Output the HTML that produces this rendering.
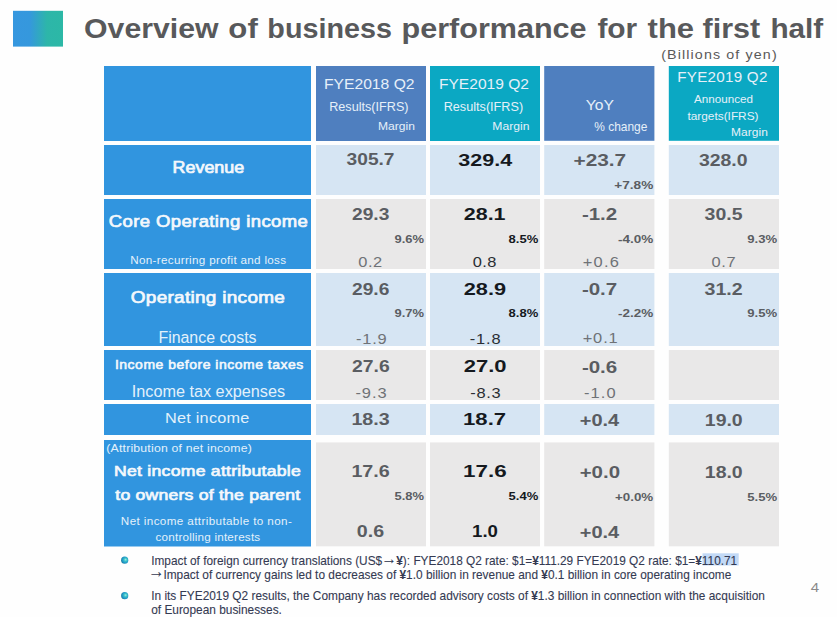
<!DOCTYPE html>
<html><head><meta charset="utf-8">
<style>
html,body{margin:0;padding:0;background:#fefefe;}
body{width:837px;height:617px;overflow:hidden;position:relative;font-family:"Liberation Sans",sans-serif;}
svg{position:absolute;left:0;top:0;}
</style></head>
<body>
<svg width="837" height="617" viewBox="0 0 837 617" font-family="Liberation Sans, sans-serif">
<defs>
<linearGradient id="sq" x1="0" y1="0" x2="1" y2="0">
<stop offset="0" stop-color="#3697df"/><stop offset="0.33" stop-color="#3598dd"/><stop offset="0.68" stop-color="#2db6a9"/><stop offset="1" stop-color="#2cb8a6"/>
</linearGradient>
<radialGradient id="bl" cx="0.62" cy="0.45" r="0.62" fx="0.62" fy="0.42">
<stop offset="0" stop-color="#9aeee0"/><stop offset="0.35" stop-color="#3cc0c8"/><stop offset="0.75" stop-color="#1b94c8"/><stop offset="1" stop-color="#1f7f9a"/>
</radialGradient>
</defs>
<rect x="13" y="10.8" width="50" height="35.8" fill="url(#sq)"/>
<!-- header -->
<rect x="104" y="66" width="207" height="75" fill="#3195df"/>
<rect x="316" y="66" width="110" height="75" fill="#4f7fbf"/>
<rect x="430" y="66" width="110" height="75" fill="#0ba8c3"/>
<rect x="544.2" y="66" width="110.2" height="74.8" fill="#4f7fbf"/>
<rect x="668.8" y="66" width="110.2" height="74.8" fill="#0ba8c3"/>
<!-- label column -->
<rect x="104" y="145" width="207" height="50" fill="#3195df"/>
<rect x="104" y="199" width="207" height="70" fill="#3195df"/>
<rect x="104" y="273" width="207" height="73" fill="#3195df"/>
<rect x="104" y="350" width="207" height="50" fill="#3195df"/>
<rect x="104" y="404" width="207" height="31" fill="#3195df"/>
<rect x="104" y="440" width="207" height="106.5" fill="#3195df"/>
<!-- data -->
<g fill="#d6e5f3">
<rect x="316" y="145" width="110" height="50"/><rect x="430" y="145" width="110" height="50"/><rect x="544.2" y="145" width="110.2" height="50"/><rect x="668.8" y="145" width="110.2" height="50"/>
<rect x="316" y="273" width="110" height="73"/><rect x="430" y="273" width="110" height="73"/><rect x="544.2" y="273" width="110.2" height="73"/><rect x="668.8" y="273" width="110.2" height="73"/>
<rect x="316" y="404" width="110" height="31"/><rect x="430" y="404" width="110" height="31"/><rect x="544.2" y="404" width="110.2" height="31"/><rect x="668.8" y="404" width="110.2" height="31"/>
</g>
<g fill="#e9e8e8">
<rect x="316" y="199" width="110" height="70"/><rect x="430" y="199" width="110" height="70"/><rect x="544.2" y="199" width="110.2" height="70"/><rect x="668.8" y="199" width="110.2" height="70"/>
<rect x="316" y="350" width="110" height="50"/><rect x="430" y="350" width="110" height="50"/><rect x="544.2" y="350" width="110.2" height="50"/><rect x="668.8" y="350" width="110.2" height="50"/>
<rect x="316" y="442.4" width="110" height="103.9"/><rect x="430" y="442.4" width="110" height="103.9"/><rect x="544.2" y="442.4" width="110.2" height="103.9"/><rect x="668.8" y="442.4" width="110.2" height="103.9"/>
</g>
<!-- footer highlight -->
<rect x="702.5" y="553.3" width="36.2" height="12.2" fill="#c2d9f6"/>
<circle cx="124.7" cy="560.2" r="3.6" fill="url(#bl)"/>
<circle cx="124.7" cy="595.7" r="3.6" fill="url(#bl)"/>
<g font-size="12.3" fill="#343a52" stroke="#343a52" stroke-width="0.1">
<text transform="translate(151.2 564.8) scale(0.9635 1)">Impact of foreign currency translations (US$<tspan font-size="16" dy="-1.3" dx="-0.5">→</tspan><tspan dy="1.3" dx="-0.8" font-weight="bold">¥</tspan>): FYE2018 Q2 rate: $1=<tspan font-weight="bold">¥</tspan>111.29 FYE2019 Q2 rate: $1=<tspan font-weight="bold">¥</tspan>110.71</text>
<text transform="translate(148.2 578.8) scale(0.9655 1)"><tspan font-size="17" dy="-1.4">→</tspan><tspan dy="1.4" dx="-1.2">Impact of currency gains led to decreases of </tspan><tspan font-weight="bold">¥</tspan>1.0 billion in revenue and <tspan font-weight="bold">¥</tspan>0.1 billion in core operating income</text>
<text transform="translate(151.2 600.3) scale(0.9665 1)">In its FYE2019 Q2 results, the Company has recorded advisory costs of <tspan font-weight="bold">¥</tspan>1.3 billion in connection with the acquisition</text>
<text transform="translate(151.2 614.1) scale(0.9665 1)">of European businesses.</text>
</g>
<text transform="translate(84.09 37.60) scale(1.1138 1)" font-size="27.14" font-weight="bold" fill="#58595b">Overview</text>
<text transform="translate(228.36 37.60) scale(1.1483 1)" font-size="27.14" font-weight="bold" fill="#58595b">of</text>
<text transform="translate(267.37 37.60) scale(1.0595 1)" font-size="27.14" font-weight="bold" fill="#58595b">business</text>
<text transform="translate(401.57 37.60) scale(1.1254 1)" font-size="27.14" font-weight="bold" fill="#58595b">performance</text>
<text transform="translate(597.40 37.60) scale(1.1020 1)" font-size="27.14" font-weight="bold" fill="#58595b">for</text>
<text transform="translate(647.59 37.60) scale(1.1426 1)" font-size="27.14" font-weight="bold" fill="#58595b">the</text>
<text transform="translate(702.59 37.60) scale(1.1252 1)" font-size="27.14" font-weight="bold" fill="#58595b">first</text>
<text transform="translate(770.42 37.60) scale(1.0958 1)" font-size="27.14" font-weight="bold" fill="#58595b">half</text>
<text transform="translate(661.14 58.80) scale(1.0600 1)" font-size="13.48" font-weight="normal" fill="#595959" letter-spacing="1.058">(Billions of yen)</text>
<text transform="translate(323.95 89.00) scale(1.0307 1)" font-size="15.22" font-weight="normal" fill="#e6f0f9">FYE2018 Q2</text>
<text transform="translate(329.19 110.70) scale(1.0157 1)" font-size="12.46" font-weight="normal" fill="#e6f0f9">Results(IFRS)</text>
<text transform="translate(378.03 129.70) scale(1.0425 1)" font-size="11.59" font-weight="normal" fill="#e6f0f9">Margin</text>
<text transform="translate(438.95 89.00) scale(1.0238 1)" font-size="15.22" font-weight="normal" fill="#e6f0f9">FYE2019 Q2</text>
<text transform="translate(443.69 110.70) scale(1.0171 1)" font-size="12.46" font-weight="normal" fill="#e6f0f9">Results(IFRS)</text>
<text transform="translate(492.33 129.70) scale(1.0484 1)" font-size="11.59" font-weight="normal" fill="#e6f0f9">Margin</text>
<text transform="translate(585.69 110.40) scale(1.0297 1)" font-size="15.22" font-weight="normal" fill="#e6f0f9">YoY</text>
<text transform="translate(594.24 131.00) scale(0.9942 1)" font-size="12.03" font-weight="normal" fill="#e6f0f9">% change</text>
<text transform="translate(677.28 82.40) scale(1.0600 1)" font-size="14.35" font-weight="normal" fill="#e6f0f9" letter-spacing="0.240">FYE2019 Q2</text>
<text transform="translate(694.00 102.50) scale(1.0307 1)" font-size="11.30" font-weight="normal" fill="#e6f0f9">Announced</text>
<text transform="translate(687.38 119.50) scale(1.0503 1)" font-size="11.30" font-weight="normal" fill="#e6f0f9">targets(IFRS)</text>
<text transform="translate(731.04 135.80) scale(1.0600 1)" font-size="11.30" font-weight="normal" fill="#e6f0f9" letter-spacing="0.058">Margin</text>
<text transform="translate(172.52 173.40) scale(1.1269 1)" font-size="15.91" font-weight="normal" fill="#f4f8fc" stroke="#f4f8fc" stroke-width="0.7">Revenue</text>
<text transform="translate(108.83 227.20) scale(1.1500 1)" font-size="16.06" font-weight="normal" fill="#f4f8fc" letter-spacing="0.351" stroke="#f4f8fc" stroke-width="0.7">Core Operating income</text>
<text transform="translate(130.27 263.60) scale(1.0600 1)" font-size="11.01" font-weight="normal" fill="#e3f1fb" letter-spacing="0.296">Non-recurring profit and loss</text>
<text transform="translate(130.79 303.00) scale(1.1500 1)" font-size="16.49" font-weight="normal" fill="#f4f8fc" letter-spacing="0.263" stroke="#f4f8fc" stroke-width="0.7">Operating income</text>
<text transform="translate(158.43 342.80) scale(1.0175 1)" font-size="15.65" font-weight="normal" fill="#e3f1fb">Finance costs</text>
<text transform="translate(114.92 368.60) scale(1.1500 1)" font-size="12.13" font-weight="normal" fill="#f4f8fc" letter-spacing="0.462" stroke="#f4f8fc" stroke-width="0.55">Income before income taxes</text>
<text transform="translate(131.74 397.00) scale(1.0375 1)" font-size="15.65" font-weight="normal" fill="#e3f1fb">Income tax expenses</text>
<text transform="translate(165.10 422.50) scale(1.0600 1)" font-size="15.36" font-weight="normal" fill="#e3f1fb" letter-spacing="0.203">Net income</text>
<text transform="translate(106.26 452.40) scale(1.0600 1)" font-size="11.59" font-weight="normal" fill="#e3f1fb" letter-spacing="0.180">(Attribution of net income)</text>
<text transform="translate(114.04 475.90) scale(1.1500 1)" font-size="15.33" font-weight="normal" fill="#f4f8fc" letter-spacing="0.226" stroke="#f4f8fc" stroke-width="0.7">Net income attributable</text>
<text transform="translate(115.27 500.10) scale(1.1500 1)" font-size="15.33" font-weight="normal" fill="#f4f8fc" letter-spacing="0.189" stroke="#f4f8fc" stroke-width="0.7">to owners of the parent</text>
<text transform="translate(120.87 524.70) scale(1.0600 1)" font-size="11.01" font-weight="normal" fill="#e3f1fb" letter-spacing="0.364">Net income attributable to non-</text>
<text transform="translate(155.53 541.00) scale(1.0600 1)" font-size="11.01" font-weight="normal" fill="#e3f1fb" letter-spacing="0.200">controlling interests</text>
<text transform="translate(346.62 165.20) scale(1.2065 1)" font-size="15.86" font-weight="bold" fill="#5a5d62">305.7</text>
<text transform="translate(458.37 165.70) scale(1.2552 1)" font-size="17.14" font-weight="bold" fill="#15191e">329.4</text>
<text transform="translate(573.47 166.00) scale(1.2924 1)" font-size="16.14" font-weight="bold" fill="#5a5d62">+23.7</text>
<text transform="translate(614.26 189.40) scale(1.1920 1)" font-size="11.43" font-weight="bold" fill="#5a5d62">+7.8%</text>
<text transform="translate(698.91 166.00) scale(1.2028 1)" font-size="16.14" font-weight="bold" fill="#5a5d62">328.0</text>
<text transform="translate(352.02 219.60) scale(1.2000 1)" font-size="16.00" font-weight="bold" fill="#5a5d62">29.3</text>
<text transform="translate(394.51 243.10) scale(1.1339 1)" font-size="11.43" font-weight="bold" fill="#5a5d62">9.6%</text>
<text transform="translate(358.31 267.20) scale(1.0600 1)" font-size="15.51" font-weight="normal" fill="#6f7276" letter-spacing="0.519">0.2</text>
<text transform="translate(463.76 219.60) scale(1.2742 1)" font-size="16.86" font-weight="bold" fill="#15191e">28.1</text>
<text transform="translate(508.61 243.10) scale(1.1378 1)" font-size="11.43" font-weight="bold" fill="#15191e">8.5%</text>
<text transform="translate(472.71 267.20) scale(1.0600 1)" font-size="15.51" font-weight="normal" fill="#2a2e33" letter-spacing="0.348">0.8</text>
<text transform="translate(581.88 219.50) scale(1.2824 1)" font-size="16.00" font-weight="bold" fill="#5a5d62">-1.2</text>
<text transform="translate(618.00 242.50) scale(1.1812 1)" font-size="11.43" font-weight="bold" fill="#5a5d62">-4.0%</text>
<text transform="translate(582.64 267.00) scale(1.0600 1)" font-size="15.51" font-weight="normal" fill="#6f7276" letter-spacing="1.227">+0.6</text>
<text transform="translate(704.61 219.50) scale(1.2170 1)" font-size="16.00" font-weight="bold" fill="#5a5d62">30.5</text>
<text transform="translate(747.31 242.50) scale(1.1496 1)" font-size="11.43" font-weight="bold" fill="#5a5d62">9.3%</text>
<text transform="translate(711.51 267.00) scale(1.0600 1)" font-size="15.51" font-weight="normal" fill="#6f7276" letter-spacing="0.661">0.7</text>
<text transform="translate(352.02 294.90) scale(1.2000 1)" font-size="16.00" font-weight="bold" fill="#5a5d62">29.6</text>
<text transform="translate(394.51 317.10) scale(1.1339 1)" font-size="11.43" font-weight="bold" fill="#5a5d62">9.7%</text>
<text transform="translate(355.94 343.90) scale(1.0600 1)" font-size="15.51" font-weight="normal" fill="#6f7276" letter-spacing="0.784">-1.9</text>
<text transform="translate(463.75 294.90) scale(1.2905 1)" font-size="16.86" font-weight="bold" fill="#15191e">28.9</text>
<text transform="translate(508.61 317.10) scale(1.1378 1)" font-size="11.43" font-weight="bold" fill="#15191e">8.8%</text>
<text transform="translate(469.84 343.90) scale(1.0600 1)" font-size="15.51" font-weight="normal" fill="#2a2e33" letter-spacing="0.763">-1.8</text>
<text transform="translate(581.88 294.90) scale(1.2824 1)" font-size="16.00" font-weight="bold" fill="#5a5d62">-0.7</text>
<text transform="translate(618.00 317.10) scale(1.1812 1)" font-size="11.43" font-weight="bold" fill="#5a5d62">-2.2%</text>
<text transform="translate(582.64 343.20) scale(1.0600 1)" font-size="15.51" font-weight="normal" fill="#6f7276" letter-spacing="0.838">+0.1</text>
<text transform="translate(704.61 294.90) scale(1.2235 1)" font-size="16.00" font-weight="bold" fill="#5a5d62">31.2</text>
<text transform="translate(747.31 317.10) scale(1.1496 1)" font-size="11.43" font-weight="bold" fill="#5a5d62">9.5%</text>
<text transform="translate(352.02 371.90) scale(1.2100 1)" font-size="16.00" font-weight="bold" fill="#5a5d62">27.6</text>
<text transform="translate(355.44 397.60) scale(1.0600 1)" font-size="15.51" font-weight="normal" fill="#6f7276" letter-spacing="0.889">-9.3</text>
<text transform="translate(463.74 371.90) scale(1.3063 1)" font-size="16.86" font-weight="bold" fill="#15191e">27.0</text>
<text transform="translate(470.34 397.60) scale(1.0600 1)" font-size="15.51" font-weight="normal" fill="#2a2e33" letter-spacing="0.606">-8.3</text>
<text transform="translate(581.88 372.50) scale(1.2824 1)" font-size="16.00" font-weight="bold" fill="#5a5d62">-0.6</text>
<text transform="translate(584.04 397.80) scale(1.0600 1)" font-size="15.51" font-weight="normal" fill="#6f7276" letter-spacing="1.015">-1.0</text>
<text transform="translate(351.42 425.40) scale(1.2296 1)" font-size="16.00" font-weight="bold" fill="#5a5d62">18.3</text>
<text transform="translate(463.07 425.40) scale(1.3114 1)" font-size="16.86" font-weight="bold" fill="#15191e">18.7</text>
<text transform="translate(579.70 426.40) scale(1.2513 1)" font-size="16.00" font-weight="bold" fill="#5a5d62">+0.4</text>
<text transform="translate(704.83 426.40) scale(1.2161 1)" font-size="16.00" font-weight="bold" fill="#5a5d62">19.0</text>
<text transform="translate(351.42 476.90) scale(1.2296 1)" font-size="16.00" font-weight="bold" fill="#5a5d62">17.6</text>
<text transform="translate(394.51 500.20) scale(1.1339 1)" font-size="11.43" font-weight="bold" fill="#5a5d62">5.8%</text>
<text transform="translate(356.81 537.00) scale(1.2497 1)" font-size="15.71" font-weight="bold" fill="#5a5d62">0.6</text>
<text transform="translate(463.06 476.90) scale(1.3274 1)" font-size="16.86" font-weight="bold" fill="#15191e">17.6</text>
<text transform="translate(508.61 500.20) scale(1.1378 1)" font-size="11.43" font-weight="bold" fill="#15191e">5.4%</text>
<text transform="translate(472.08 537.00) scale(1.1852 1)" font-size="15.71" font-weight="bold" fill="#15191e">1.0</text>
<text transform="translate(579.68 477.90) scale(1.2777 1)" font-size="16.00" font-weight="bold" fill="#5a5d62">+0.0</text>
<text transform="translate(615.07 501.00) scale(1.1670 1)" font-size="11.43" font-weight="bold" fill="#5a5d62">+0.0%</text>
<text transform="translate(579.70 538.30) scale(1.2513 1)" font-size="16.00" font-weight="bold" fill="#5a5d62">+0.4</text>
<text transform="translate(704.83 477.90) scale(1.2161 1)" font-size="16.00" font-weight="bold" fill="#5a5d62">18.0</text>
<text transform="translate(747.31 501.00) scale(1.1496 1)" font-size="11.43" font-weight="bold" fill="#5a5d62">5.5%</text>
<text transform="translate(810.70 591.90) scale(1.2256 1)" font-size="12.32" font-weight="normal" fill="#8a8a8a">4</text>
</svg>
</body></html>
